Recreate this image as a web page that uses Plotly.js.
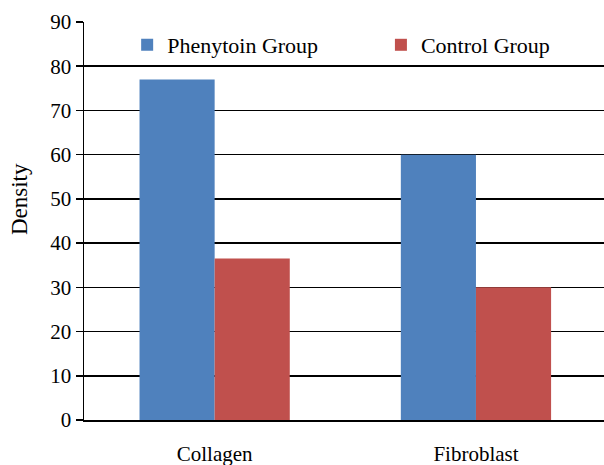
<!DOCTYPE html>
<html>
<head>
<meta charset="utf-8">
<script src="https://cdn.plot.ly/plotly-3.0.1.min.js"></script>
<style>html,body{margin:0;padding:0;background:#fff;}#chart{width:604px;height:465px;}</style>
</head>
<body>
<div id="chart"></div>
<script>
const categories = ["Collagen", "Fibroblast"];
const phenytoin = [77, 60];
const control = [36.5, 30];
const yTicks = [0, 10, 20, 30, 40, 50, 60, 70, 80, 90];

const fontFam = "Liberation Serif, Times New Roman, serif";

const data = [
  {type: "bar", name: "Phenytoin Group", x: categories, y: phenytoin,
   marker: {color: "#4F81BD"}, legend: "legend"},
  {type: "bar", name: "Control Group", x: categories, y: control,
   marker: {color: "#C0504D"}, legend: "legend2"}
];

const legendBase = {
  orientation: "h", y: 0.995, xanchor: "left", yanchor: "top",
  bgcolor: "rgba(0,0,0,0)", font: {family: fontFam, size: 22, color: "#000"}
};

const layout = {
  width: 604, height: 465,
  margin: {l: 84, r: 0, t: 22, b: 45},
  paper_bgcolor: "#fff", plot_bgcolor: "#fff",
  font: {family: fontFam, size: 21, color: "#000"},
  barmode: "group",
  bargap: 0.425,
  bargroupgap: 0,
  showlegend: true,
  legend: Object.assign({}, legendBase, {x: 0.083}),
  legend2: Object.assign({}, legendBase, {x: 0.571}),
  xaxis: {
    type: "category", range: [-0.5, 1.49],
    showline: true, linecolor: "#000", linewidth: 2,
    ticks: "", showgrid: false, zeroline: false,
    ticklabelstandoff: 14,
    tickfont: {family: fontFam, size: 21},
    fixedrange: true
  },
  yaxis: {
    range: [0, 90], tickvals: yTicks, ticktext: yTicks.map(String),
    showline: true, linecolor: "#000", linewidth: 1.5,
    ticks: "outside", ticklen: 7, tickcolor: "#000", tickwidth: 1.5,
    showgrid: true, gridcolor: "#000", gridwidth: 1.5,
    zeroline: false,
    tickfont: {family: fontFam, size: 21},
    fixedrange: true
  },
  annotations: [{
    text: "Density", xref: "paper", yref: "paper",
    x: (19 - 84) / 520, y: 0.555, xanchor: "center", yanchor: "middle",
    textangle: -90, showarrow: false,
    font: {family: fontFam, size: 23, color: "#000"}
  }]
};

Plotly.newPlot("chart", data, layout, {displayModeBar: false, staticPlot: true});
</script>
</body>
</html>
